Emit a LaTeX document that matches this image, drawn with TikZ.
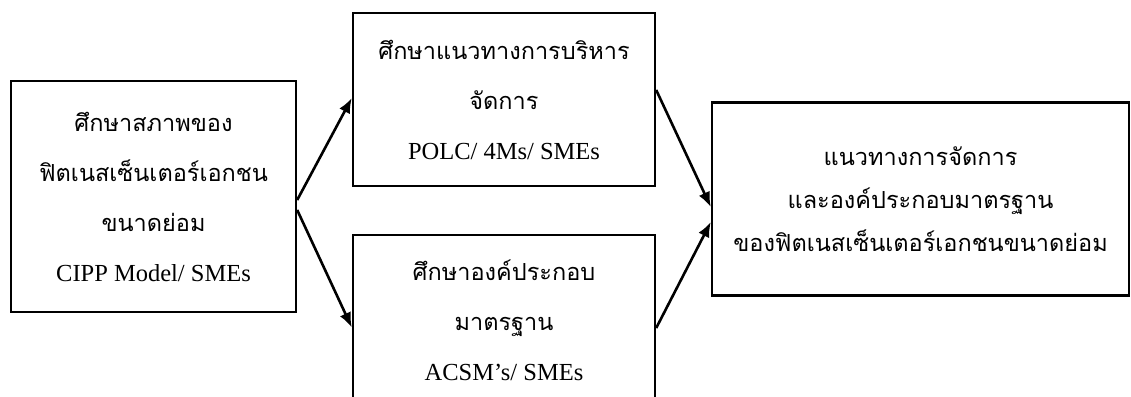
\documentclass[tikz,border=0pt]{standalone}
\usepackage{fontspec}
\setmainfont{Liberation Serif}
\newfontfamily\thaifont[Script=Thai]{Loma}
\usetikzlibrary{arrows.meta,calc}
\newcommand\thaitxt[1]{{\thaifont\fontsize{23.5}{50}\selectfont #1}}
\tikzset{
  stagebox/.style={draw, line width=2.4pt, rectangle, align=center, inner sep=0pt,
    font=\fontsize{24.5}{50}\selectfont},
  flow/.style={line width=2.6pt, -{Latex[length=15pt,width=12pt]}}
}
\begin{document}
\begin{tikzpicture}[x=1pt,y=-1pt]
\useasboundingbox (0,0) rectangle (1131,396);
\fill[white] (0,0) rectangle (1131,396);
\clip (0,0) rectangle (1131,396);
\node[stagebox, minimum width=285pt, minimum height=231pt] (A) at (153.5,196.5)
  {\thaitxt{ศึกษาสภาพของ}\\\thaitxt{ฟิตเนสเซ็นเตอร์เอกชน}\\\thaitxt{ขนาดย่อม}\\CIPP Model/ SMEs};
\node[stagebox, minimum width=302pt, minimum height=173pt] (B) at (504,99.5)
  {\thaitxt{ศึกษาแนวทางการบริหาร}\\\thaitxt{จัดการ}\\POLC/ 4Ms/ SMEs};
\node[stagebox, minimum width=302pt, minimum height=185pt] (C) at (504,327.5) {};
\node[align=center, anchor=north, inner sep=0pt, font=\fontsize{24.5}{50}\selectfont] (Ct) at (504,260)
  {\thaitxt{ศึกษาองค์ประกอบ}\\\thaitxt{มาตรฐาน}\\ACSM’s/ SMEs};
\node[stagebox, minimum width=417pt, minimum height=193pt, font=\fontsize{24.5}{43}\selectfont] (D) at (920.5,199)
  {\thaitxt{แนวทางการจัดการ}\\\thaitxt{และองค์ประกอบมาตรฐาน}\\\thaitxt{ของฟิตเนสเซ็นเตอร์เอกชนขนาดย่อม}};
\draw[flow] ($(A.east)+(0,3.5)$) -- ($(B.west)+(0,-1.5)$);
\draw[flow] ($(A.east)+(0,13.5)$) -- (C.west);
\draw[flow] ($(B.east)+(0,-9.5)$) -- ($(D.west)+(0,8)$);
\draw[flow] ($(C.east)+(0,0.5)$) -- ($(D.west)+(0,23)$);
\end{tikzpicture}
\end{document}
